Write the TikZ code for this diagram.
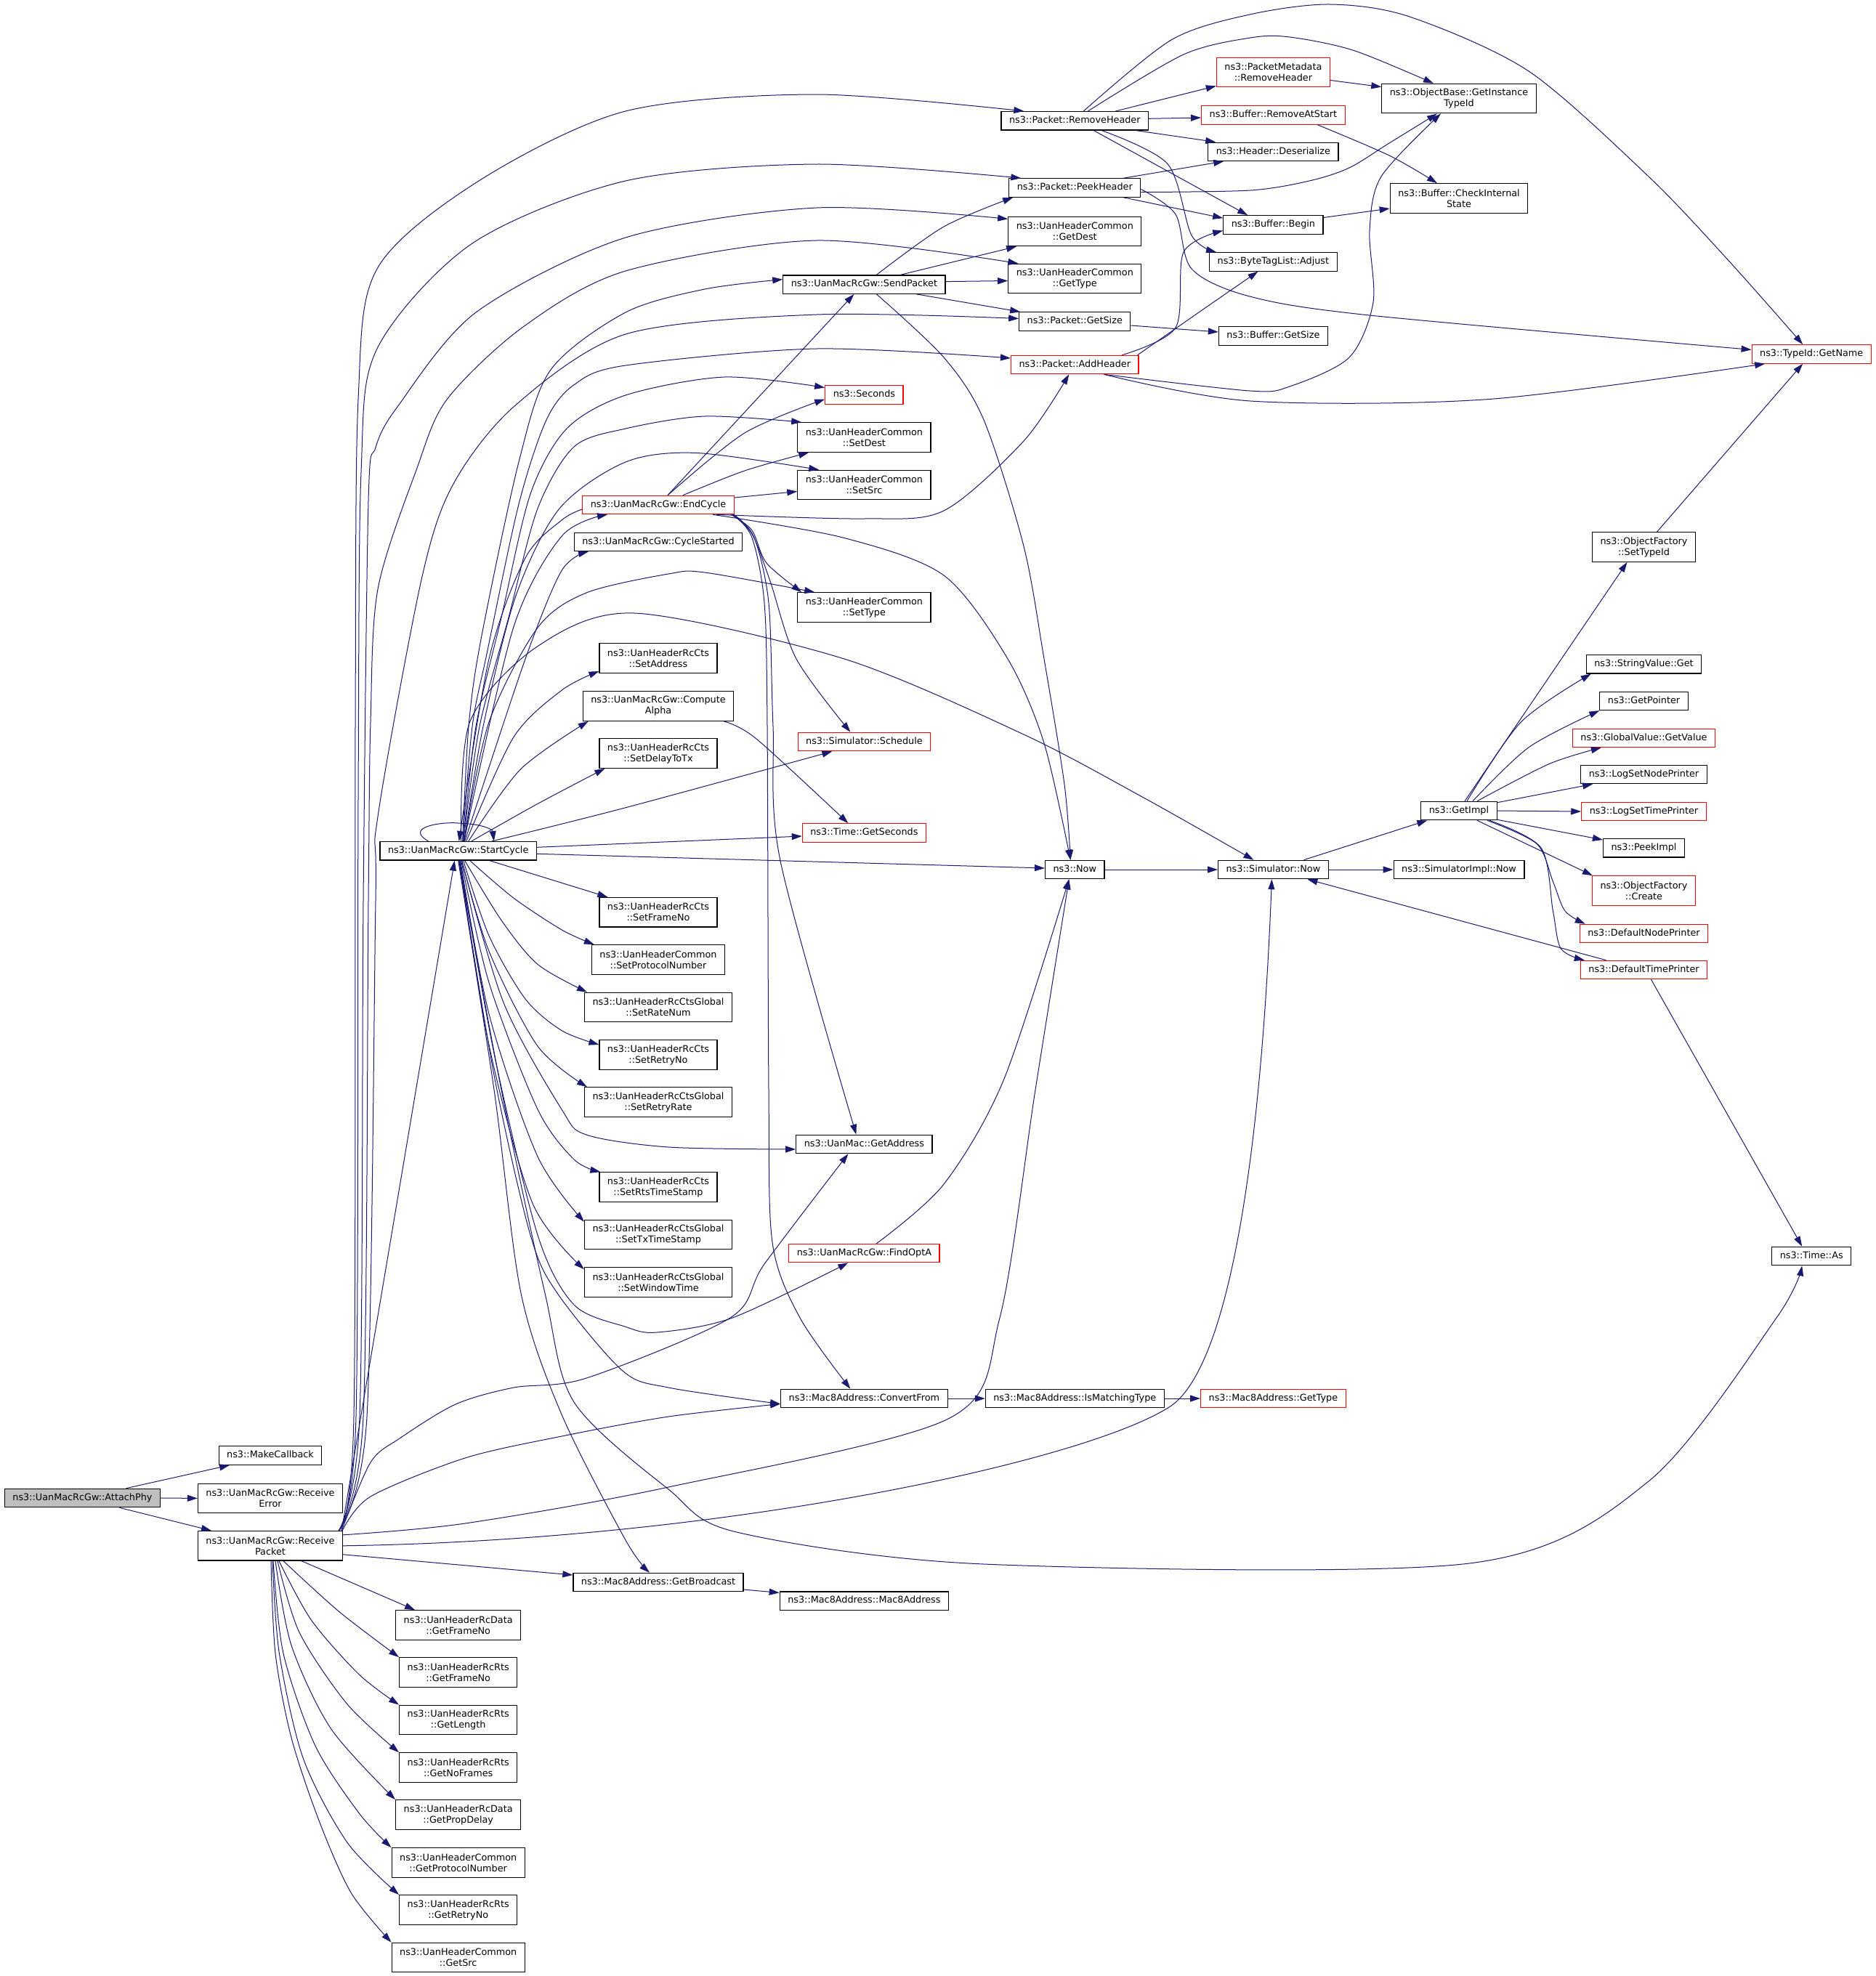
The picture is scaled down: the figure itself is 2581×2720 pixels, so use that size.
\documentclass[tikz,border=0pt]{standalone}
\usepackage{fontspec}
\setmainfont{DejaVu Sans}
\usetikzlibrary{arrows.meta}
\definecolor{edgeblue}{HTML}{191970}
\definecolor{rootgray}{HTML}{BFBFBF}
\tikzset{
  fn/.style={draw=black, line width=1.2pt, fill=white, inner xsep=11pt, inner ysep=0pt,
    minimum height=25.4pt, text height=9.4pt, text depth=2.9pt, font=\fontsize{12.8}{15}\selectfont},
  fn2/.style={fn, align=center, minimum height=40.5pt, text height=, text depth=},
  cut/.style={draw=red},
  entry/.style={fill=rootgray},
  call/.style={draw=edgeblue, line width=1pt, -{Triangle[length=14pt,width=9pt]}},
}
\begin{document}
\begin{tikzpicture}[x=1pt, y=-1pt]
\path[use as bounding box, fill=white] (0,0) rectangle (2581,2720);

% callers on the left
\node[fn, entry] (AP) at (113.4,2062) {ns3::UanMacRcGw::AttachPhy};
\node[fn] (MC) at (372,2003.5) {ns3::MakeCallback};
\node[fn2] (RE) at (372,2062.4) {ns3::UanMacRcGw::Receive\\Error};
\node[fn2] (RP) at (372,2127.8) {ns3::UanMacRcGw::Receive\\Packet};

\node[fn] (SC) at (630.7,1171.3) {ns3::UanMacRcGw::StartCycle};
\node[fn2] (RDF) at (630.7,2237) {ns3::UanHeaderRcData\\::GetFrameNo};
\node[fn2] (RRF) at (630.7,2302) {ns3::UanHeaderRcRts\\::GetFrameNo};
\node[fn2] (RRL) at (630.7,2367.5) {ns3::UanHeaderRcRts\\::GetLength};
\node[fn2] (RRNF) at (630.7,2433) {ns3::UanHeaderRcRts\\::GetNoFrames};
\node[fn2] (RDP) at (630.7,2498) {ns3::UanHeaderRcData\\::GetPropDelay};
\node[fn2] (GPN) at (630.7,2564) {ns3::UanHeaderCommon\\::GetProtocolNumber};
\node[fn2] (RRR) at (630.7,2629) {ns3::UanHeaderRcRts\\::GetRetryNo};
\node[fn2] (GSRC) at (630.7,2694.5) {ns3::UanHeaderCommon\\::GetSrc};

% third column
\node[fn, cut] (EC) at (906,695) {ns3::UanMacRcGw::EndCycle};
\node[fn] (CS) at (906,746) {ns3::UanMacRcGw::CycleStarted};
\node[fn2] (SA) at (906,906) {ns3::UanHeaderRcCts\\::SetAddress};
\node[fn2] (CA) at (906,972) {ns3::UanMacRcGw::Compute\\Alpha};
\node[fn2] (SDT) at (906,1037) {ns3::UanHeaderRcCts\\::SetDelayToTx};
\node[fn2] (SFN) at (906,1255.7) {ns3::UanHeaderRcCts\\::SetFrameNo};
\node[fn2] (SPN) at (906,1321) {ns3::UanHeaderCommon\\::SetProtocolNumber};
\node[fn2] (SRN) at (906,1386.5) {ns3::UanHeaderRcCtsGlobal\\::SetRateNum};
\node[fn2] (SRNo) at (906,1452) {ns3::UanHeaderRcCts\\::SetRetryNo};
\node[fn2] (SRR) at (906,1517) {ns3::UanHeaderRcCtsGlobal\\::SetRetryRate};
\node[fn2] (SRTS) at (906,1634) {ns3::UanHeaderRcCts\\::SetRtsTimeStamp};
\node[fn2] (STTS) at (906,1699.5) {ns3::UanHeaderRcCtsGlobal\\::SetTxTimeStamp};
\node[fn2] (SWT) at (906,1765) {ns3::UanHeaderRcCtsGlobal\\::SetWindowTime};
\node[fn] (GB) at (906,2178) {ns3::Mac8Address::GetBroadcast};

% fourth column
\node[fn] (SP) at (1189.4,391.6) {ns3::UanMacRcGw::SendPacket};
\node[fn, cut] (SEC) at (1189.4,543.5) {ns3::Seconds};
\node[fn2] (SD) at (1189.4,602) {ns3::UanHeaderCommon\\::SetDest};
\node[fn2] (SS) at (1189.4,667.5) {ns3::UanHeaderCommon\\::SetSrc};
\node[fn2] (ST) at (1189.4,836) {ns3::UanHeaderCommon\\::SetType};
\node[fn, cut] (SCH) at (1189.4,1021) {ns3::Simulator::Schedule};
\node[fn, cut] (GS) at (1189.4,1146.5) {ns3::Time::GetSeconds};
\node[fn] (GA) at (1189.4,1575) {ns3::UanMac::GetAddress};
\node[fn, cut] (FOA) at (1189.4,1725) {ns3::UanMacRcGw::FindOptA};
\node[fn] (CF) at (1189.4,1925) {ns3::Mac8Address::ConvertFrom};
\node[fn] (M8A) at (1189.4,2203.7) {ns3::Mac8Address::Mac8Address};

% fifth column
\node[fn] (RH) at (1479.3,166.3) {ns3::Packet::RemoveHeader};
\node[fn] (PH) at (1479.3,258.5) {ns3::Packet::PeekHeader};
\node[fn2] (GD) at (1479.3,318.4) {ns3::UanHeaderCommon\\::GetDest};
\node[fn2] (GTC) at (1479.3,383.5) {ns3::UanHeaderCommon\\::GetType};
\node[fn] (PGS) at (1479.3,442.5) {ns3::Packet::GetSize};
\node[fn, cut] (AH) at (1479.3,502) {ns3::Packet::AddHeader};
\node[fn] (NOW) at (1479.3,1197) {ns3::Now};
\node[fn] (IMT) at (1479.3,1925) {ns3::Mac8Address::IsMatchingType};

% sixth column
\node[fn2, cut] (PMRH) at (1752.4,99.5) {ns3::PacketMetadata\\::RemoveHeader};
\node[fn, cut] (RAS) at (1752.4,158.5) {ns3::Buffer::RemoveAtStart};
\node[fn] (DES) at (1752.4,208.8) {ns3::Header::Deserialize};
\node[fn] (BEG) at (1752.4,309.5) {ns3::Buffer::Begin};
\node[fn] (ADJ) at (1752.4,360.4) {ns3::ByteTagList::Adjust};
\node[fn] (BGS) at (1752.4,462.5) {ns3::Buffer::GetSize};
\node[fn] (SN) at (1752.4,1197) {ns3::Simulator::Now};
\node[fn, cut] (MGT) at (1752.4,1925) {ns3::Mac8Address::GetType};

% seventh column
\node[fn2] (GITI) at (2008,135.6) {ns3::ObjectBase::GetInstance\\TypeId};
\node[fn2] (CIS) at (2008,273) {ns3::Buffer::CheckInternal\\State};
\node[fn] (GI) at (2008,1116) {ns3::GetImpl};
\node[fn] (SIN) at (2008,1197) {ns3::SimulatorImpl::Now};

% eighth column
\node[fn2] (STI) at (2262.5,753) {ns3::ObjectFactory\\::SetTypeId};
\node[fn] (SVG) at (2262.5,914.3) {ns3::StringValue::Get};
\node[fn] (GP) at (2262.5,964.8) {ns3::GetPointer};
\node[fn, cut] (GV) at (2262.5,1015.8) {ns3::GlobalValue::GetValue};
\node[fn] (LSNP) at (2262.5,1066) {ns3::LogSetNodePrinter};
\node[fn, cut] (LSTP) at (2262.5,1117) {ns3::LogSetTimePrinter};
\node[fn] (PI) at (2262.5,1167.3) {ns3::PeekImpl};
\node[fn2, cut] (OFC) at (2262.5,1226) {ns3::ObjectFactory\\::Create};
\node[fn, cut] (DNP) at (2262.5,1285) {ns3::DefaultNodePrinter};
\node[fn, cut] (DTP) at (2262.5,1335) {ns3::DefaultTimePrinter};

% last column
\node[fn, cut] (GN) at (2493.2,487.4) {ns3::TypeId::GetName};
\node[fn] (TA) at (2493.2,1729) {ns3::Time::As};

% AttachPhy
\draw[call] ([xshift=60pt]AP.north) -- ([xshift=-56pt]MC.south);
\draw[call] (AP.east) -- (RE.west);
\draw[call] ([xshift=51pt]AP.south) -- ([xshift=-81pt]RP.north);

% ReceivePacket
\draw[call] ([xshift=-2pt]RP.north east) -- ([xshift=-5pt]SC.south);
\draw[call] plot[smooth] coordinates {([xshift=-6pt]RP.north east) (487,1950) (489,1000) (493,550) (519,370) (659,249) (861,153) (1124,130) ([xshift=-70pt]RH.north)};
\draw[call] plot[smooth] coordinates {([xshift=-6pt]RP.north east) (490,1950) (493,1100) (497,650) (519,480) (650,335) (861,249) (1124,226) ([xshift=-74pt]PH.north)};
\draw[call] plot[smooth] coordinates {([xshift=-6pt]RP.north east) (495,1950) (500,1240) (507,690) (517,616) (547,560) (655,430) (861,327) (1124,286) ([yshift=17pt]GD.west)};
\draw[call] plot[smooth] coordinates {([xshift=-6pt]RP.north east) (500,1950) (507,1240) (510,994) (520,811) (573,647) (615,550) (720,450) (861,373) (1124,331) ([xshift=-78pt]GTC.north)};
\draw[call] plot[smooth] coordinates {([xshift=-6pt]RP.north east) (505,1950) (517,1240) (520,1124) (580,798) (623,668) (707,560) (861,460) (1124,433) ([yshift=4pt]PGS.west)};
\draw[call] plot[smooth] coordinates {([xshift=-2pt]RP.north east) (510,2013) (550,1980) (627,1933) (707,1910) (807,1897) (1005,1814) (1052,1740) ([xshift=-22pt]GA.south)};
\draw[call] plot[smooth] coordinates {([xshift=-1pt]RP.north east) (510,2060) (640,2007) (773,1977) (920,1950) ([yshift=-7.5pt]CF.west)};
\draw[call] plot[smooth] coordinates {([yshift=15pt]RP.east) (640,2097) (920,2047) (1305,1953) (1376,1814) (1425,1500) ([xshift=-8pt]NOW.south)};
\draw[call] (RP.east) .. controls (1000,2120) and (1500,2010) .. (1612,1935) .. controls (1690,1880) and (1735,1600) .. ([xshift=-2pt]SN.south);
\draw[call] ([yshift=-12pt]RP.east) -- ([yshift=10pt]GB.west);
\draw[call] ([xshift=43pt]RP.south) -- ([xshift=27pt]RDF.north west);
\draw[call] plot[smooth] coordinates {([xshift=18pt]RP.south) (466.8,2218.5) (RRF.north west)};
\draw[call] plot[smooth] coordinates {([xshift=12pt]RP.south) (428.4,2230) (494.3,2305) (RRL.north west)};
\draw[call] plot[smooth] coordinates {([xshift=10pt]RP.south) (412,2247) (477.8,2345.6) (RRNF.north west)};
\draw[call] plot[smooth] coordinates {([xshift=7pt]RP.south) (401,2264.7) (455.8,2380) (RDP.north west)};
\draw[call] plot[smooth] coordinates {([xshift=4pt]RP.south) (390,2276) (433.9,2403) (494.3,2496) (GPN.north west)};
\draw[call] plot[smooth] coordinates {([xshift=3pt]RP.south) (384.4,2276) (417.4,2420.7) (477.8,2536) (RRR.north west)};
\draw[call] plot[smooth] coordinates {([xshift=1pt]RP.south) (379,2276) (401,2392) (439.4,2507) (483.3,2605.6) (GSRC.north west)};

% StartCycle, upwards
\draw[call] ([xshift=-41pt]SC.north) .. controls (555,1138) and (610,1131) .. (630,1133) .. controls (665,1134) and (678,1142) .. ([xshift=49pt]SC.north);
\draw[call] plot[smooth] coordinates {([xshift=6pt]SC.north) (645,1000) (662,880) (714,636) (758,509) (861,430) (970,398) ([yshift=7pt]SP.west)};
\draw[call] plot[smooth] coordinates {([xshift=6pt]SC.north) (650,1000) (670,900) (714,694) (752,578) (791,529) (861,503) (1124,480) ([yshift=9pt]AH.west)};
\draw[call] plot[smooth] coordinates {([xshift=7pt]SC.north) (655,1000) (690,850) (730,680) (780,590) (861,544) (997,519) ([yshift=10pt]SEC.west)};
\draw[call] plot[smooth] coordinates {([xshift=7pt]SC.north) (660,1000) (700,850) (740,700) (790,615) (861,590) (970,573) ([xshift=6pt]SD.north west)};
\draw[call] plot[smooth] coordinates {([xshift=8pt]SC.north) (665,1000) (710,820) (770,700) (861,636) (959,623.5) ([xshift=30pt]SS.north west)};
\draw[call] plot[smooth] coordinates {([xshift=8pt]SC.north) (673,994) (740,864) (807,816) (920,790) (970,788) ([xshift=24pt]ST.north west)};
\draw[call] plot[smooth] coordinates {([xshift=8pt]SC.north) (706.7,863.6) (773.3,737.8) ([xshift=-70pt]EC.south)};
\draw[call] plot[smooth] coordinates {([xshift=9pt]SC.north) (723,907) (773,785.5) ([xshift=-96pt]CS.south)};
\draw[call] plot[smooth] coordinates {([xshift=11pt]SC.north) (706.7,1015) (773.3,950) ([yshift=-18pt]SA.west)};
\draw[call] plot[smooth] coordinates {([xshift=14pt]SC.north) (716.7,1058.7) ([xshift=8pt]CA.south west)};
\draw[call] plot[smooth] coordinates {([xshift=18pt]SC.north) (740,1106.4) ([xshift=8pt]SDT.south west)};
\draw[call] plot[smooth] coordinates {([xshift=4pt]SC.north) (646.7,993.6) (740,889.6) (873.3,844) (1162,907) (1409,1011) (1574,1098) ([xshift=-27pt]SN.north)};
\draw[call] plot[smooth] coordinates {([xshift=46pt]SC.north) (860,1112) ([xshift=-44pt]SCH.south)};
\draw[call] ([yshift=5pt]SC.east) -- ([yshift=-4.5pt]GS.west);
\draw[call] ([yshift=-4pt]SC.east) -- ([yshift=2pt]NOW.west);

% StartCycle, downwards
\draw[call] ([xshift=43pt]SC.south) -- ([xshift=12pt]SFN.north west);
\draw[call] plot[smooth] coordinates {([xshift=16pt]SC.south) (706.7,1236) (773.3,1280) ([xshift=4pt]SPN.north west)};
\draw[call] plot[smooth] coordinates {([xshift=9pt]SC.south) (690,1266.7) (740,1327.4) ([xshift=4pt]SRN.north west)};
\draw[call] plot[smooth] coordinates {([xshift=7pt]SC.south) (673,1288) (723,1375) (773,1418.5) ([yshift=14pt]SRNo.west)};
\draw[call] plot[smooth] coordinates {([xshift=5pt]SC.south) (673.3,1310) (740,1440) ([xshift=4pt]SRR.north west)};
\draw[call] plot[smooth] coordinates {([xshift=5pt]SC.south) (693,1380) (773,1527) (807,1562) (920,1579) ([yshift=-7pt]GA.west)};
\draw[call] plot[smooth] coordinates {([xshift=4pt]SC.south) (673.3,1353.5) (740,1527) (790,1596) ([xshift=2pt]SRTS.north west)};
\draw[call] plot[smooth] coordinates {([xshift=3pt]SC.south) (673.3,1396.8) (740,1592) ([yshift=-3pt]STTS.north west)};
\draw[call] plot[smooth] coordinates {([xshift=2pt]SC.south) (673.3,1440) (733.3,1657) ([yshift=-3pt]SWT.north west)};
\draw[call] plot[smooth] coordinates {([xshift=2pt]SC.south) (680,1450) (740,1700) (790,1796) (860,1826) (904,1834) (1008,1814) ([xshift=-22pt]FOA.south)};
\draw[call] plot[smooth] coordinates {([xshift=1pt]SC.south) (680,1480) (730,1700) (767,1780) (857,1887) (920,1910) ([yshift=-7.5pt]CF.west)};
\draw[call] plot[smooth] coordinates {(SC.south) (680,1500) (717,1780) (773,1947) (861,2120) ([xshift=-12pt]GB.north)};
\draw[call] plot[smooth] coordinates {([xshift=1pt]SC.south) (690,1500) (750,1780) (790,1930) (920,2050) (1014,2109) (1354,2153) (2022,2152) (2269,2039) (2445,1814) ([xshift=-13pt]TA.south)};

% EndCycle
\draw[call] plot[smooth] coordinates {([yshift=-6pt]EC.west) (773,716) (723,768) (673,907) ([xshift=1pt]SC.north)};
\draw[call] ([xshift=13pt]EC.north) -- ([xshift=-14pt]SP.south);
\draw[call] plot[smooth] coordinates {([xshift=13pt]EC.north) (1024.8,596) ([yshift=-6pt]SEC.west)};
\draw[call] plot[smooth] coordinates {([xshift=34pt]EC.north) (1024.8,648) ([xshift=16pt]SD.south west)};
\draw[call] ([yshift=10pt]EC.east) -- ([yshift=-9pt]SS.west);
\draw[call] plot[smooth] coordinates {([xshift=80pt]EC.south) (1189.5,714) (1299,703) (1409,607) ([xshift=-8pt]AH.south)};
\draw[call] plot[smooth] coordinates {([xshift=75pt]EC.south) (1160,740) (1299,792) (1387,907) (1437,1023) ([xshift=-6pt]NOW.north)};
\draw[call] plot[smooth] coordinates {([xshift=100pt]EC.south) (1035,730) (1055,775) ([xshift=6pt]ST.north west)};
\draw[call] plot[smooth] coordinates {([xshift=102pt]EC.south) (1035,735) (1060,800) (1096,907) ([xshift=-19pt]SCH.north)};
\draw[call] plot[smooth] coordinates {([xshift=104pt]EC.south) (1038,740) (1058,830) (1064,1000) (1074,1185) ([xshift=-11pt]GA.north)};
\draw[call] plot[smooth] coordinates {([xshift=103pt]EC.south) (1035,740) (1052,830) (1056,1000) (1058,1500) (1063,1710) (1101,1814) ([xshift=-19pt]CF.north)};

% SendPacket
\draw[call] plot[smooth] coordinates {([xshift=17pt]SP.north) (1299,312) ([xshift=6pt]PH.south west)};
\draw[call] ([xshift=50pt]SP.north) -- ([xshift=12pt]GD.south west);
\draw[call] ([yshift=4pt]SP.east) -- ([yshift=-3pt]GTC.west);
\draw[call] ([xshift=72pt]SP.south) -- ([xshift=2pt]PGS.north west);
\draw[call] plot[smooth] coordinates {([xshift=17pt]SP.south) (1299,492) (1354,578) (1409,752) (1437,907) (1465,1080) ([xshift=-6pt]NOW.north)};

% packet headers
\draw[call] ([xshift=56pt]RH.north) -- ([yshift=2pt]PMRH.south west);
\draw[call] ([yshift=3pt]RH.east) -- ([yshift=-3.5pt]RAS.west);
\draw[call] ([xshift=84pt]RH.south) -- ([xshift=11pt]DES.north west);
\draw[call] ([xshift=26pt]RH.south) -- ([xshift=34pt]BEG.north west);
\draw[call] plot[smooth] coordinates {([xshift=37pt]RH.south) (1607,225.6) (1640,324) ([xshift=10pt]ADJ.north west)};
\draw[call] plot[smooth] coordinates {([xshift=18pt]RH.north) (1629,75) (1721,52) (1775,51) (1863,69.4) ([xshift=-35pt]GITI.north)};
\draw[call] plot[smooth] coordinates {([xshift=12pt]RH.north) (1612,55) (1720,20) (1830,6) (1940,23) (2104,98) (2269,243) (2379,358.6) ([xshift=-12pt]GN.north)};
\draw[call] ([yshift=-11pt]PMRH.east) -- ([yshift=16pt]GITI.west);
\draw[call] plot[smooth] coordinates {([xshift=61pt]RAS.south) (1912,214) ([xshift=-30pt]CIS.north)};
\draw[call] ([yshift=10pt]BEG.east) -- ([yshift=-14pt]CIS.west);
\draw[call] ([xshift=67pt]PH.north) -- ([xshift=22pt]DES.south west);
\draw[call] ([xshift=67pt]PH.south) -- ([yshift=-4pt]BEG.north west);
\draw[call] plot[smooth] coordinates {([yshift=-6pt]PH.east) (1721,262) (1802,249) (1857,231) (1912,197) ([xshift=-30pt]GITI.south)};
\draw[call] plot[smooth] coordinates {([yshift=-2pt]PH.east) (1618,295) (1640,370) (1720,408) (1885,434) ([yshift=6pt]GN.west)};
\draw[call] plot[smooth] coordinates {([xshift=65pt]AH.north) (1618,451) (1629,347) ([yshift=-8pt]BEG.west)};
\draw[call] plot[smooth] coordinates {([xshift=-2pt]AH.north east) (1660,423) ([xshift=-21pt]ADJ.south)};
\draw[call] plot[smooth] coordinates {([xshift=40pt]AH.south) (1720,538) (1775,532) (1857,492) (1890,416) (1885,318) (1901,243) ([xshift=-25pt]GITI.south)};
\draw[call] plot[smooth] coordinates {([xshift=40pt]AH.south) (1721,552) (2049.5,549.5) ([xshift=-64pt]GN.south)};
\draw[call] ([yshift=-5.5pt]PGS.east) -- ([yshift=5.5pt]BGS.west);

% simulator
\draw[call] (NOW.east) -- (SN.west);
\draw[call] (SN.east) -- (SIN.west);
\draw[call] ([xshift=42pt]SN.north) -- ([xshift=9pt]GI.south west);
\draw[call] ([xshift=8pt]GI.north) -- ([xshift=-23pt]STI.south);
\draw[call] ([xshift=18pt]STI.north) -- ([xshift=-12pt]GN.south);
\draw[call] plot[smooth] coordinates {([xshift=11pt]GI.north) (2093.5,993.8) ([xshift=7pt]SVG.south west)};
\draw[call] plot[smooth] coordinates {([xshift=19pt]GI.north) (2104.4,1028.5) (GP.south west)};
\draw[call] plot[smooth] coordinates {([xshift=25pt]GI.north) (2132,1051.6) ([xshift=40pt]GV.south west)};
\draw[call] ([yshift=-2pt]GI.north east) -- ([xshift=17pt]LSNP.south west);
\draw[call] (GI.east) -- (LSTP.west);
\draw[call] ([yshift=1pt]GI.south east) -- ([yshift=-2pt]PI.north west);
\draw[call] ([xshift=25pt]GI.south) -- ([xshift=1pt]OFC.north west);
\draw[call] plot[smooth] coordinates {([xshift=39pt]GI.south) (2115,1161.5) (2137.4,1213.5) (2154,1254) ([xshift=8pt]DNP.north west)};
\draw[call] plot[smooth] coordinates {([xshift=42pt]GI.south) (2121,1167) (2137.4,1254) (2148.4,1306) ([xshift=6pt]DTP.north west)};
\draw[call] ([xshift=-52pt]DTP.north) -- ([xshift=47pt]SN.south);
\draw[call] ([xshift=10pt]DTP.south) -- ([xshift=-13pt]TA.north);

% the rest
\draw[call] plot[smooth] coordinates {([xshift=90pt]CA.south) (1041,1017) ([xshift=-22pt]GS.north)};
\draw[call] plot[smooth] coordinates {([xshift=17pt]FOA.north) (1299,1630) (1382,1485) ([xshift=-8pt]NOW.south)};
\draw[call] (CF.east) -- (IMT.west);
\draw[call] (IMT.east) -- (MGT.west);
\draw[call] ([yshift=-10pt]GB.east) -- ([yshift=-2pt]M8A.north west);

\end{tikzpicture}
\end{document}
